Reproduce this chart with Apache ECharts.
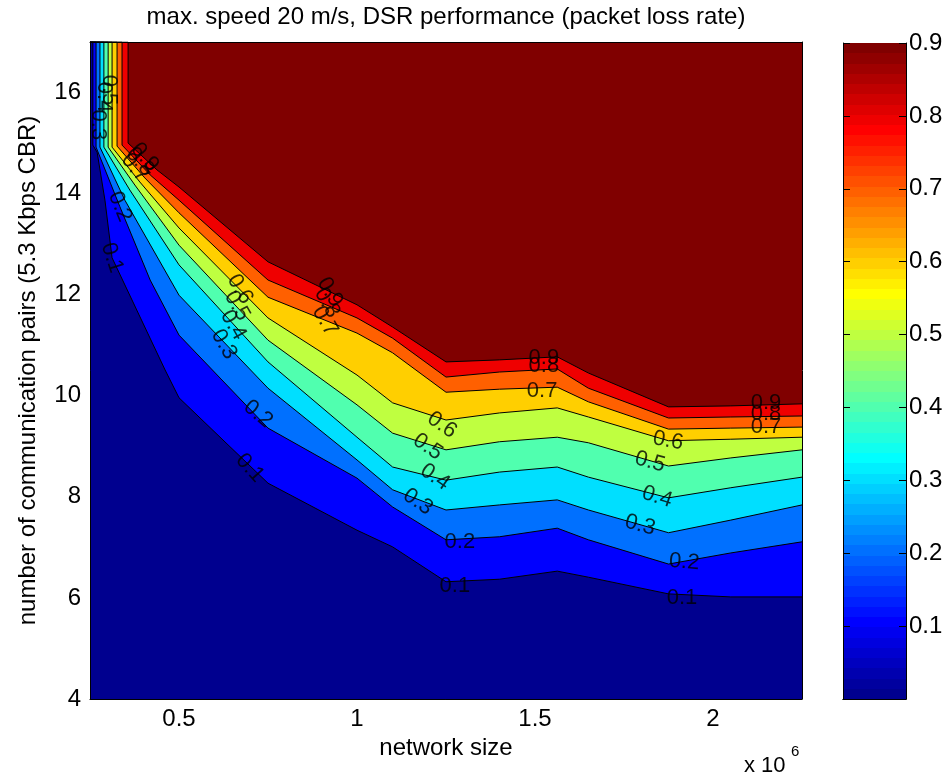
<!DOCTYPE html>
<html>
<head>
<meta charset="utf-8">
<script src="https://cdn.jsdelivr.net/npm/echarts@6/dist/echarts.min.js"></script>
<style>
html,body{margin:0;padding:0;background:#fff;}
#chart{width:948px;height:779px;}
</style>
</head>
<body>
<div id="chart"></div>
<script>
// ---- data (network size in units of 10^6, number of communication pairs) ----
const contourLevels = [0.1, 0.2, 0.3, 0.4, 0.5, 0.6, 0.7, 0.8, 0.9];

const contour01 = [[0.25,17],[0.258,17],[0.258,14.96],[0.270,14.82],[0.292,13.87],[0.312,12.73],[0.461,10.51],[0.5,9.96],[0.75,8.27],[1.0,7.34],[1.1,7.01],[1.25,6.32],[1.4,6.37],[1.5625,6.53],[1.65,6.41],[1.875,6.08],[2.05,6.02],[2.25,6.02]];
const contour02 = [[0.25,17],[0.267,17],[0.267,14.92],[0.334,13.74],[0.419,12.29],[0.5,11.20],[0.75,9.36],[1.0,8.37],[1.1,7.80],[1.25,7.15],[1.4,7.21],[1.5625,7.38],[1.65,7.15],[1.875,6.67],[2.05,6.89],[2.25,7.11]];
const contour03 = [[0.25,17],[0.278,17],[0.278,14.92],[0.348,13.87],[0.5,11.99],[0.75,10.15],[1.0,8.73],[1.1,8.14],[1.25,7.74],[1.4,7.84],[1.5625,7.94],[1.65,7.74],[1.875,7.29],[2.05,7.54],[2.25,7.84]];
const contour04 = [[0.25,17],[0.289,17],[0.289,14.92],[0.362,14.07],[0.5,12.59],[0.75,10.67],[1.0,9.18],[1.1,8.59],[1.25,8.33],[1.4,8.49],[1.5625,8.59],[1.65,8.39],[1.875,7.98],[2.05,8.18],[2.25,8.39]];
const contour05 = [[0.25,17],[0.301,17],[0.301,14.92],[0.376,14.17],[0.5,12.98],[0.75,11.10],[1.0,9.82],[1.1,9.26],[1.25,8.93],[1.4,9.09],[1.5625,9.18],[1.65,9.07],[1.875,8.61],[2.05,8.77],[2.25,8.93]];
const contour06 = [[0.25,17],[0.312,17],[0.312,14.92],[0.390,14.23],[0.5,13.32],[0.75,11.54],[1.0,10.41],[1.1,9.86],[1.25,9.52],[1.4,9.66],[1.5625,9.76],[1.65,9.58],[1.875,9.11],[2.05,9.14],[2.25,9.18]];
const contour07 = [[0.25,17],[0.326,17],[0.326,14.94],[0.404,14.31],[0.5,13.62],[0.75,11.95],[1.0,11.24],[1.1,10.85],[1.25,10.07],[1.4,10.13],[1.5625,10.17],[1.65,9.88],[1.875,9.34],[2.05,9.36],[2.25,9.38]];
const contour08 = [[0.25,17],[0.340,17],[0.340,14.96],[0.419,14.37],[0.5,13.87],[0.75,12.29],[1.0,11.54],[1.1,11.14],[1.25,10.37],[1.4,10.47],[1.5625,10.53],[1.65,10.15],[1.875,9.56],[2.05,9.58],[2.25,9.60]];
const contour09 = [[0.25,17],[0.357,17],[0.357,15.00],[0.438,14.47],[0.5,14.13],[0.75,12.65],[1.0,11.80],[1.1,11.36],[1.25,10.67],[1.4,10.71],[1.5625,10.77],[1.65,10.45],[1.875,9.78],[2.05,9.80],[2.25,9.84]];

const contours = [contour01, contour02, contour03, contour04, contour05, contour06, contour07, contour08, contour09];

// contour labels (clabel)
const labelTexts = ['0.3','0.4','0.5','0.9','0.8','0.7','0.2','0.1','0.6','0.5','0.4','0.3','0.2','0.1','0.9','0.8','0.7','0.6','0.5','0.4','0.3','0.2','0.1','0.9','0.8','0.7','0.6','0.5','0.4','0.3','0.2','0.1','0.9','0.8','0.7'];
const labelX = [0.272,0.289,0.303,0.404,0.390,0.376,0.334,0.312,0.671,0.663,0.652,0.626,0.722,0.699,0.924,0.916,0.910,1.239,1.199,1.219,1.171,1.289,1.275,1.525,1.525,1.520,1.874,1.823,1.843,1.795,1.919,1.913,2.149,2.149,2.149];
const labelY = [15.36,15.91,16.05,14.72,14.63,14.51,13.74,12.73,12.11,11.78,11.40,11.02,9.64,8.57,12.05,11.84,11.48,9.42,8.99,8.39,7.90,7.11,6.24,10.75,10.59,10.09,9.11,8.69,8.00,7.44,6.71,6.00,9.86,9.64,9.38];
const labelAngles = [-90,-90,-90,-50,-50,-50,-68,-72,-60,-60,-60,-60,-40,-48,-60,-60,-60,-35,-35,-35,-35,0,0,0,0,0,-10,-15,-18,-15,-5,0,0,0,0];

const colorbarMin = 0, colorbarMax = 0.9;

// ---- MATLAB jet(64) colormap ----
function jet64(k) {
  const f = x => Math.max(0, Math.min(1, x));
  const b = f(k <= 8 ? (8 + k) / 16 : (k <= 24 ? 1 : (40 - k) / 16));
  const g = f(k <= 8 ? 0 : (k <= 24 ? (k - 8) / 16 : (k <= 40 ? 1 : (56 - k) / 16)));
  const r = f(k <= 24 ? 0 : (k <= 40 ? (k - 24) / 16 : (k <= 56 ? 1 : (72 - k) / 16)));
  return 'rgb(' + Math.round(r * 255) + ',' + Math.round(g * 255) + ',' + Math.round(b * 255) + ')';
}
function levelColor(v) {
  const k = Math.min(64, Math.floor((v - colorbarMin) / (colorbarMax - colorbarMin) * 64 + 1e-9) + 1);
  return jet64(k);
}
const stops = [];
for (let k = 1; k <= 64; k++) {
  stops.push({offset: (k - 1) / 64, color: jet64(k)});
  stops.push({offset: k / 64, color: jet64(k)});
}

const FONT = 'Liberation Sans, Arial, Helvetica, sans-serif';
const chart = echarts.init(document.getElementById('chart'), null, {renderer: 'canvas'});

const series = [];
for (let i = contours.length - 1; i >= 0; i--) {
  const lvl = contourLevels[i];
  series.push({
    type: 'line',
    name: 'c' + lvl,
    xAxisIndex: 0, yAxisIndex: 0,
    data: contours[i],
    symbol: 'none',
    showSymbol: false,
    smooth: false,
    animation: false,
    lineStyle: {color: '#000', width: 1},
    areaStyle: {color: levelColor(lvl - 0.1), opacity: 1, origin: 'start'},
    z: 2
  });
}
series.push({
  type: 'scatter',
  xAxisIndex: 0, yAxisIndex: 0,
  symbolSize: 1,
  itemStyle: {color: 'rgba(0,0,0,0)'},
  animation: false,
  z: 4,
  label: {show: true, position: 'inside', formatter: '{b}', color: '#000', fontSize: 22, fontFamily: FONT},
  data: labelTexts.map((t, i) => ({name: t, value: [labelX[i], labelY[i]], label: {rotate: labelAngles[i]}}))
});
series.push({
  type: 'bar',
  xAxisIndex: 2, yAxisIndex: 2,
  data: [colorbarMax],
  barWidth: '100%',
  barCategoryGap: 0,
  animation: false,
  itemStyle: {color: {type: 'linear', x: 0, y: 1, x2: 0, y2: 0, colorStops: stops}},
  z: 2
});

const axisLineBlack = {show: true, lineStyle: {color: '#000', width: 1}};
const option = {
  backgroundColor: '#fff',
  animation: false,
  textStyle: {fontFamily: FONT},
  grid: [
    {left: 90, top: 42, width: 712, height: 657, show: true, backgroundColor: levelColor(0.9), borderWidth: 0, containLabel: false, outerBoundsMode: 'none'},
    {left: 843, top: 43, width: 63, height: 656, show: false, containLabel: false, outerBoundsMode: 'none'}
  ],
  xAxis: [
    {gridIndex: 0, type: 'value', min: 0.25, max: 2.25, splitNumber: 4, z: 10,
     axisLine: axisLineBlack, axisTick: {show: false}, splitLine: {show: false},
     axisLabel: {color: '#000', fontSize: 24, fontFamily: FONT, margin: 8, showMinLabel: false, showMaxLabel: false},
     name: 'network size', nameLocation: 'middle', nameGap: 36,
     nameTextStyle: {color: '#000', fontSize: 24, fontFamily: FONT}},
    {gridIndex: 0, type: 'value', position: 'top', min: 0.25, max: 2.25, z: 10,
     axisLine: axisLineBlack, axisTick: {show: false}, axisLabel: {show: false}, splitLine: {show: false}},
    {gridIndex: 1, type: 'category', data: ['cb'], z: 10, boundaryGap: true,
     axisLine: axisLineBlack, axisTick: {show: false}, axisLabel: {show: false}, splitLine: {show: false}},
    {gridIndex: 1, type: 'category', data: ['cb'], position: 'top', z: 10,
     axisLine: axisLineBlack, axisTick: {show: false}, axisLabel: {show: false}, splitLine: {show: false}}
  ],
  yAxis: [
    {gridIndex: 0, type: 'value', min: 4, max: 17, interval: 2, z: 10,
     axisLine: axisLineBlack, axisTick: {show: false}, splitLine: {show: false},
     axisLabel: {color: '#000', fontSize: 24, fontFamily: FONT, margin: 9, showMaxLabel: false},
     name: 'number of communication pairs (5.3 Kbps CBR)', nameLocation: 'middle', nameGap: 50, nameRotate: 90,
     nameTextStyle: {color: '#000', fontSize: 24, fontFamily: FONT}},
    {gridIndex: 0, type: 'value', position: 'right', min: 4, max: 17, interval: 2, z: 10,
     axisLine: axisLineBlack, axisTick: {show: false}, axisLabel: {show: false}, splitLine: {show: false}},
    {gridIndex: 1, type: 'value', position: 'right', min: colorbarMin, max: colorbarMax, interval: 0.1, z: 10,
     axisLine: axisLineBlack, splitLine: {show: false},
     axisTick: {show: true, inside: true, length: 7, lineStyle: {color: '#000', width: 1}},
     axisLabel: {color: '#000', fontSize: 24, fontFamily: FONT, margin: 3, showMinLabel: false,
                 formatter: v => v.toFixed(1)}},
    {gridIndex: 1, type: 'value', position: 'left', min: colorbarMin, max: colorbarMax, interval: 0.1, z: 10,
     axisLine: axisLineBlack, splitLine: {show: false},
     axisTick: {show: true, inside: true, length: 7, lineStyle: {color: '#000', width: 1}},
     axisLabel: {show: false}}
  ],
  graphic: [
    {type: 'text', x: 446, y: 17, z: 20,
     style: {text: 'max. speed 20 m/s, DSR performance (packet loss rate)', fill: '#000',
             font: '24px ' + FONT, align: 'center', verticalAlign: 'middle'}},
    {type: 'text', x: 744, y: 766, z: 20,
     style: {text: 'x 10', fill: '#000', font: '22px ' + FONT, align: 'left', verticalAlign: 'middle'}},
    {type: 'text', x: 791, y: 752, z: 20,
     style: {text: '6', fill: '#000', font: '15px ' + FONT, align: 'left', verticalAlign: 'middle'}}
  ],
  series: series
};
chart.setOption(option);
</script>
</body>
</html>
